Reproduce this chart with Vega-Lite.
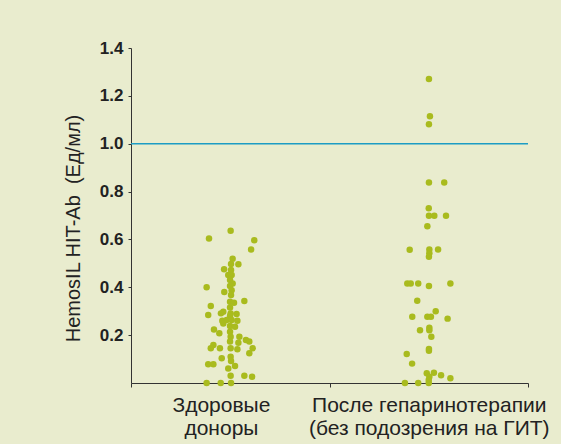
{
  "$schema": "https://vega.github.io/schema/vega-lite/v6.json",
  "width": 397,
  "height": 335,
  "autosize": {"type": "none"},
  "padding": {"left": 131, "top": 48, "right": 33, "bottom": 61},
  "background": "#e9ecce",
  "config": {
    "view": {"stroke": null},
    "font": "Liberation Sans"
  },
  "datasets": {
    "pts": [
      {"group": "Здоровые доноры", "x": 0.393, "y": 0.604},
      {"group": "Здоровые доноры", "x": 0.502, "y": 0.636},
      {"group": "Здоровые доноры", "x": 0.621, "y": 0.597},
      {"group": "Здоровые доноры", "x": 0.605, "y": 0.558},
      {"group": "Здоровые доноры", "x": 0.512, "y": 0.519},
      {"group": "Здоровые доноры", "x": 0.504, "y": 0.497},
      {"group": "Здоровые доноры", "x": 0.541, "y": 0.496},
      {"group": "Здоровые доноры", "x": 0.469, "y": 0.475},
      {"group": "Здоровые доноры", "x": 0.504, "y": 0.472},
      {"group": "Здоровые доноры", "x": 0.490, "y": 0.451},
      {"group": "Здоровые доноры", "x": 0.507, "y": 0.451},
      {"group": "Здоровые доноры", "x": 0.499, "y": 0.430},
      {"group": "Здоровые доноры", "x": 0.512, "y": 0.416},
      {"group": "Здоровые доноры", "x": 0.499, "y": 0.405},
      {"group": "Здоровые доноры", "x": 0.381, "y": 0.400},
      {"group": "Здоровые доноры", "x": 0.507, "y": 0.388},
      {"group": "Здоровые доноры", "x": 0.470, "y": 0.380},
      {"group": "Здоровые доноры", "x": 0.504, "y": 0.368},
      {"group": "Здоровые доноры", "x": 0.499, "y": 0.340},
      {"group": "Здоровые доноры", "x": 0.571, "y": 0.343},
      {"group": "Здоровые доноры", "x": 0.519, "y": 0.335},
      {"group": "Здоровые доноры", "x": 0.402, "y": 0.322},
      {"group": "Здоровые доноры", "x": 0.499, "y": 0.316},
      {"group": "Здоровые доноры", "x": 0.465, "y": 0.298},
      {"group": "Здоровые доноры", "x": 0.453, "y": 0.291},
      {"group": "Здоровые доноры", "x": 0.502, "y": 0.291},
      {"group": "Здоровые доноры", "x": 0.532, "y": 0.288},
      {"group": "Здоровые доноры", "x": 0.389, "y": 0.284},
      {"group": "Здоровые доноры", "x": 0.499, "y": 0.280},
      {"group": "Здоровые доноры", "x": 0.460, "y": 0.260},
      {"group": "Здоровые доноры", "x": 0.482, "y": 0.263},
      {"group": "Здоровые доноры", "x": 0.507, "y": 0.263},
      {"group": "Здоровые доноры", "x": 0.536, "y": 0.260},
      {"group": "Здоровые доноры", "x": 0.465, "y": 0.249},
      {"group": "Здоровые доноры", "x": 0.499, "y": 0.238},
      {"group": "Здоровые доноры", "x": 0.524, "y": 0.235},
      {"group": "Здоровые доноры", "x": 0.418, "y": 0.224},
      {"group": "Здоровые доноры", "x": 0.445, "y": 0.208},
      {"group": "Здоровые доноры", "x": 0.499, "y": 0.214},
      {"group": "Здоровые доноры", "x": 0.502, "y": 0.193},
      {"group": "Здоровые доноры", "x": 0.546, "y": 0.193},
      {"group": "Здоровые доноры", "x": 0.499, "y": 0.173},
      {"group": "Здоровые доноры", "x": 0.541, "y": 0.168},
      {"group": "Здоровые доноры", "x": 0.579, "y": 0.180},
      {"group": "Здоровые доноры", "x": 0.596, "y": 0.173},
      {"group": "Здоровые доноры", "x": 0.415, "y": 0.159},
      {"group": "Здоровые доноры", "x": 0.402, "y": 0.145},
      {"group": "Здоровые доноры", "x": 0.448, "y": 0.145},
      {"group": "Здоровые доноры", "x": 0.502, "y": 0.145},
      {"group": "Здоровые доноры", "x": 0.536, "y": 0.141},
      {"group": "Здоровые доноры", "x": 0.613, "y": 0.145},
      {"group": "Здоровые доноры", "x": 0.596, "y": 0.124},
      {"group": "Здоровые доноры", "x": 0.457, "y": 0.103},
      {"group": "Здоровые доноры", "x": 0.502, "y": 0.110},
      {"group": "Здоровые доноры", "x": 0.504, "y": 0.092},
      {"group": "Здоровые доноры", "x": 0.389, "y": 0.078},
      {"group": "Здоровые доноры", "x": 0.415, "y": 0.078},
      {"group": "Здоровые доноры", "x": 0.490, "y": 0.061},
      {"group": "Здоровые доноры", "x": 0.524, "y": 0.071},
      {"group": "Здоровые доноры", "x": 0.502, "y": 0.030},
      {"group": "Здоровые доноры", "x": 0.571, "y": 0.030},
      {"group": "Здоровые доноры", "x": 0.610, "y": 0.026},
      {"group": "Здоровые доноры", "x": 0.381, "y": 0.0},
      {"group": "Здоровые доноры", "x": 0.452, "y": 0.0},
      {"group": "Здоровые доноры", "x": 0.504, "y": 0.0},
      {"group": "После гепаринотерапии", "x": 1.501, "y": 1.270},
      {"group": "После гепаринотерапии", "x": 1.506, "y": 1.115},
      {"group": "После гепаринотерапии", "x": 1.501, "y": 1.081},
      {"group": "После гепаринотерапии", "x": 1.501, "y": 0.838},
      {"group": "После гепаринотерапии", "x": 1.578, "y": 0.838},
      {"group": "После гепаринотерапии", "x": 1.500, "y": 0.730},
      {"group": "После гепаринотерапии", "x": 1.501, "y": 0.699},
      {"group": "После гепаринотерапии", "x": 1.528, "y": 0.699},
      {"group": "После гепаринотерапии", "x": 1.587, "y": 0.699},
      {"group": "После гепаринотерапии", "x": 1.493, "y": 0.655},
      {"group": "После гепаринотерапии", "x": 1.404, "y": 0.557},
      {"group": "После гепаринотерапии", "x": 1.503, "y": 0.558},
      {"group": "После гепаринотерапии", "x": 1.547, "y": 0.558},
      {"group": "После гепаринотерапии", "x": 1.503, "y": 0.542},
      {"group": "После гепаринотерапии", "x": 1.501, "y": 0.528},
      {"group": "После гепаринотерапии", "x": 1.392, "y": 0.416},
      {"group": "После гепаринотерапии", "x": 1.409, "y": 0.416},
      {"group": "После гепаринотерапии", "x": 1.447, "y": 0.416},
      {"group": "После гепаринотерапии", "x": 1.501, "y": 0.405},
      {"group": "После гепаринотерапии", "x": 1.609, "y": 0.416},
      {"group": "После гепаринотерапии", "x": 1.442, "y": 0.344},
      {"group": "После гепаринотерапии", "x": 1.417, "y": 0.277},
      {"group": "После гепаринотерапии", "x": 1.493, "y": 0.277},
      {"group": "После гепаринотерапии", "x": 1.511, "y": 0.277},
      {"group": "После гепаринотерапии", "x": 1.535, "y": 0.300},
      {"group": "После гепаринотерапии", "x": 1.595, "y": 0.269},
      {"group": "После гепаринотерапии", "x": 1.456, "y": 0.220},
      {"group": "После гепаринотерапии", "x": 1.503, "y": 0.231},
      {"group": "После гепаринотерапии", "x": 1.503, "y": 0.220},
      {"group": "После гепаринотерапии", "x": 1.513, "y": 0.193},
      {"group": "После гепаринотерапии", "x": 1.501, "y": 0.142},
      {"group": "После гепаринотерапии", "x": 1.501, "y": 0.135},
      {"group": "После гепаринотерапии", "x": 1.389, "y": 0.121},
      {"group": "После гепаринотерапии", "x": 1.416, "y": 0.081},
      {"group": "После гепаринотерапии", "x": 1.490, "y": 0.041},
      {"group": "После гепаринотерапии", "x": 1.526, "y": 0.043},
      {"group": "После гепаринотерапии", "x": 1.503, "y": 0.026},
      {"group": "После гепаринотерапии", "x": 1.562, "y": 0.032},
      {"group": "После гепаринотерапии", "x": 1.609, "y": 0.020},
      {"group": "После гепаринотерапии", "x": 1.500, "y": 0.013},
      {"group": "После гепаринотерапии", "x": 1.380, "y": 0.0},
      {"group": "После гепаринотерапии", "x": 1.447, "y": 0.0},
      {"group": "После гепаринотерапии", "x": 1.500, "y": 0.0}
    ],
    "cutoff": [{"y": 1.0}]
  },
  "layer": [
    {
      "data": {"name": "cutoff"},
      "mark": {"type": "rule", "color": "#1d9cc4", "strokeWidth": 1.5},
      "encoding": {
        "y": {"field": "y", "type": "quantitative"}
      }
    },
    {
      "data": {"name": "pts"},
      "mark": {"type": "circle", "size": 42, "color": "#a9bb1e", "opacity": 1},
      "encoding": {
        "x": {
          "field": "x",
          "type": "quantitative",
          "scale": {"domain": [0, 2], "nice": false, "zero": false},
          "axis": {
            "title": null,
            "grid": false,
            "values": [0, 0.453, 1, 1.5, 2],
            "labelExpr": "datum.value == 0.453 ? ['Здоровые', 'доноры'] : datum.value == 1.5 ? ['После гепаринотерапии', '(без подозрения на ГИТ)'] : ''",
            "tickOpacity": {"condition": {"test": "datum.value == 0.453 || datum.value == 1.5", "value": 0}, "value": 1},
            "tickSize": 4,
            "tickColor": "#333333",
            "domainColor": "#333333",
            "labelFontSize": 21,
            "labelColor": "#222222",
            "labelPadding": 7,
            "labelLineHeight": 23,
            "labelLimit": 0,
            "labelFlush": false,
            "labelOverlap": false
          }
        },
        "y": {
          "field": "y",
          "type": "quantitative",
          "scale": {"domain": [0, 1.4], "nice": false},
          "axis": {
            "title": "HemosIL HIT-Ab\u00a0 (Ед/мл)",
            "titleFontSize": 20,
            "titleFontWeight": "normal",
            "titleColor": "#222222",
            "titlePadding": 16,
            "titleY": 180,
            "grid": false,
            "values": [0.2, 0.4, 0.6, 0.8, 1.0, 1.2, 1.4],
            "format": ".1f",
            "tickSize": 3,
            "tickColor": "#333333",
            "domainColor": "#333333",
            "labelFontSize": 17,
            "labelFontWeight": "bold",
            "labelColor": "#222222",
            "labelPadding": 5
          }
        }
      }
    }
  ]
}
